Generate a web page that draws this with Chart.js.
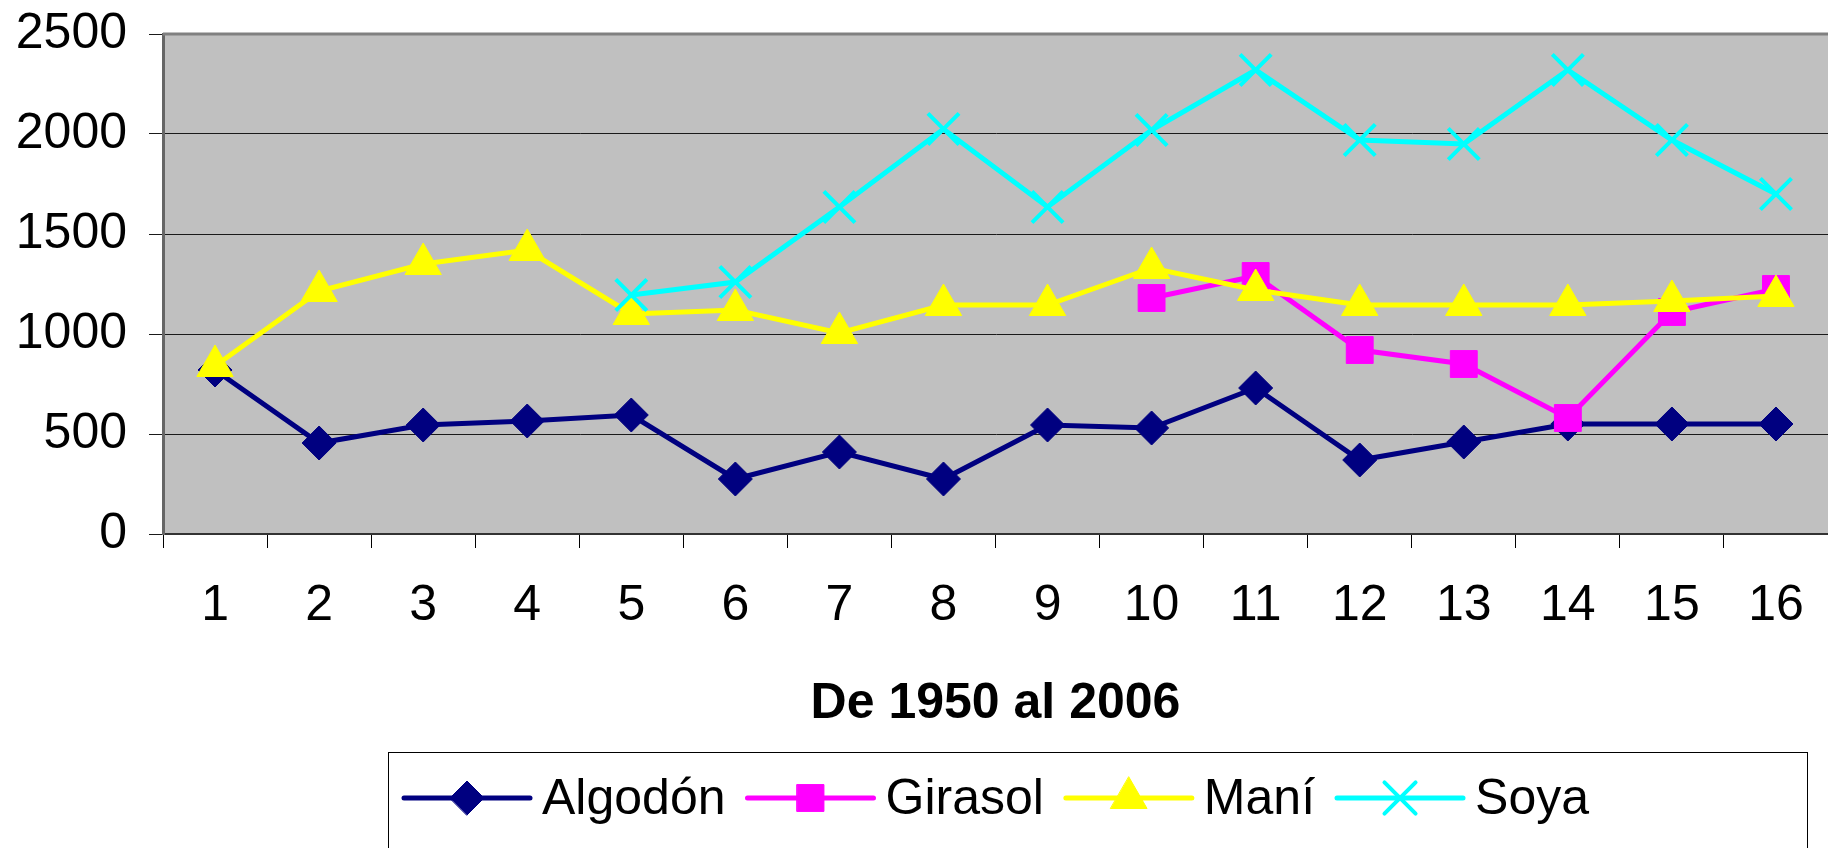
<!DOCTYPE html>
<html>
<head>
<meta charset="utf-8">
<script src="https://cdn.jsdelivr.net/npm/chart.js@4.4.0/dist/chart.umd.min.js"></script>
<style>
  html, body { margin: 0; padding: 0; background: #fff; }
  #wrap { width: 1828px; height: 848px; }
</style>
</head>
<body>
<div id="wrap"><canvas id="lineChart" width="1828" height="848"></canvas></div>
<script>
// datos
var years = ['1', '2', '3', '4', '5', '6', '7', '8', '9', '10', '11', '12', '13', '14', '15', '16'];
var algodon = [820, 455, 545, 565, 595, 275, 410, 275, 545, 530, 730, 370, 460, 550, 550, 550];
var girasol = [null, null, null, null, null, null, null, null, null, 1180, 1290, 920, 850, 580, 1110, 1225];
var mani = [840, 1215, 1350, 1420, 1100, 1120, 1005, 1145, 1145, 1330, 1220, 1145, 1145, 1145, 1165, 1190];
var soya = [null, null, null, null, 1195, 1260, 1635, 2025, 1635, 2020, 2320, 1970, 1950, 2320, 1970, 1700];
var yTicks = [0, 500, 1000, 1500, 2000, 2500];

var FONT = 'Arial, "Liberation Sans", sans-serif';

var ctx = document.getElementById('lineChart').getContext('2d');

// fondo gris del area de trazado + borde superior
var plotBg = {
    id: 'plotBg',
    beforeDraw: function (chart) {
        var c = chart.ctx, a = chart.chartArea;
        c.save();
        c.fillStyle = '#fff';
        c.fillRect(0, 0, chart.width, chart.height);
        c.fillStyle = '#c0c0c0';
        c.fillRect(a.left, a.top, a.right - a.left, a.bottom - a.top);
        c.restore();
    },
    beforeDatasetsDraw: function (chart) {
        var c = chart.ctx, a = chart.chartArea;
        c.save();
        c.strokeStyle = '#808080';
        c.lineWidth = 3;
        c.beginPath();
        c.moveTo(a.left, a.top);
        c.lineTo(a.right, a.top);
        c.stroke();
        c.restore();
    }
};

// leyenda con linea + marcador, dentro de un recuadro
var boxLegend = {
    id: 'boxLegend',
    afterDraw: function (chart) {
        var c = chart.ctx;
        var x = 404, y = 798, lineLen = 126;
        c.save();
        c.strokeStyle = '#000';
        c.lineWidth = 1;
        c.strokeRect(388.5, 752.5, 1419, 120);
        c.font = '50px ' + FONT;
        c.textBaseline = 'middle';
        chart.data.datasets.forEach(function (ds) {
            c.strokeStyle = ds.borderColor;
            c.lineWidth = ds.borderWidth;
            c.lineCap = 'round';
            c.beginPath();
            c.moveTo(x, y);
            c.lineTo(x + lineLen, y);
            c.stroke();
            c.fillStyle = ds.pointBackgroundColor;
            c.strokeStyle = ds.pointBorderColor;
            c.lineWidth = ds.pointBorderWidth;
            Chart.helpers.drawPoint(c, {
                pointStyle: ds.pointStyle,
                radius: ds.pointRadius,
                borderWidth: ds.pointBorderWidth
            }, x + lineLen / 2, y);
            c.fillStyle = '#000';
            c.fillText(ds.label, x + lineLen + 12, y + 2);
            x += lineLen + 12 + c.measureText(ds.label).width + 22;
        });
        c.restore();
    }
};

function serie(label, data, color, style, radius, bw, order) {
    return {
        label: label,
        data: data,
        borderColor: color,
        backgroundColor: color,
        borderWidth: 5,
        pointStyle: style,
        pointRadius: radius,
        pointHoverRadius: radius,
        pointBackgroundColor: color,
        pointBorderColor: color,
        pointBorderWidth: bw,
        tension: 0,
        clip: false,
        order: order
    };
}

var lineChart = new Chart(ctx, {
    type: 'line',
    data: {
        labels: years,
        datasets: [
            serie('Algodón', algodon, '#000080', 'rectRot', 17, 1, 3),
            serie('Girasol', girasol, '#ff00ff', 'rect', 19, 1, 2),
            serie('Maní', mani, '#ffff00', 'triangle', 21, 1, 1),
            serie('Soya', soya, '#00ffff', 'crossRot', 22, 4, 0)
        ]
    },
    plugins: [plotBg, boxLegend],
    options: {
        responsive: false,
        animation: false,
        layout: { autoPadding: false, padding: { top: 34, right: 0, bottom: 0, left: 0 } },
        plugins: {
            legend: { display: false },
            tooltip: { enabled: false }
        },
        scales: {
            x: {
                offset: true,
                grid: {
                    offset: true,
                    drawOnChartArea: false,
                    drawTicks: true,
                    tickLength: 14,
                    color: '#000',
                    lineWidth: 1
                },
                border: { color: '#333', width: 2 },
                ticks: {
                    color: '#000',
                    font: { family: FONT, size: 50 },
                    padding: 28,
                    maxRotation: 0,
                    autoSkip: false
                },
                title: {
                    display: true,
                    text: 'De 1950 al 2006',
                    color: '#000',
                    font: { family: FONT, size: 50, weight: 'bold' },
                    padding: { top: 0, bottom: 114 }
                },
                afterFit: function (s) {
                    s.height = 314;
                    s.paddingLeft = 0;
                    s.paddingRight = 0;
                }
            },
            y: {
                min: 0,
                max: 2500,
                afterBuildTicks: function (s) {
                    s.ticks = yTicks.map(function (v) { return { value: v }; });
                },
                grid: {
                    color: '#1a1a1a',
                    lineWidth: 1,
                    tickLength: 14
                },
                border: { color: '#666', width: 3 },
                ticks: {
                    color: '#000',
                    font: { family: FONT, size: 50 },
                    padding: 22,
                    callback: function (v) { return String(v); }
                },
                afterFit: function (s) {
                    s.width = 163;
                    s.paddingTop = 0;
                    s.paddingBottom = 0;
                }
            }
        }
    }
});
</script>
</body>
</html>
